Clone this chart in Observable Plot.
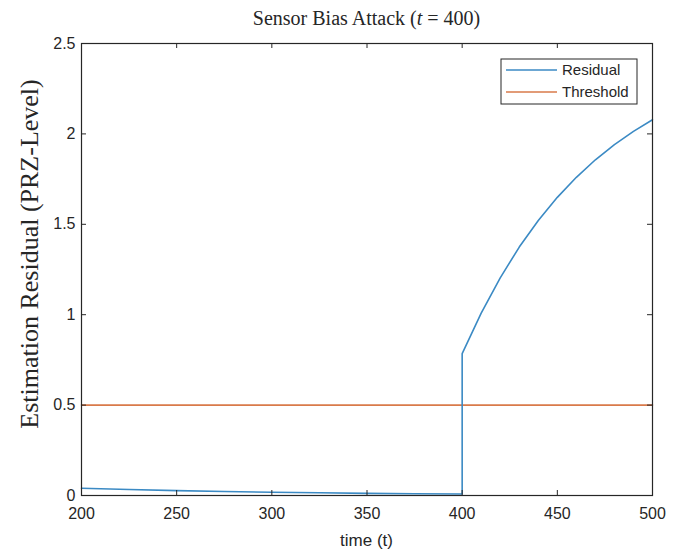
<!DOCTYPE html>
<html>
<head>
<meta charset="utf-8">
<script src="https://cdn.jsdelivr.net/npm/d3@7"></script>
<script src="https://cdn.jsdelivr.net/npm/@observablehq/plot@0.6"></script>
<style>
  html, body { margin: 0; padding: 0; background: #fff; }
  #chart svg { display: block; }
</style>
</head>
<body>
<div id="chart"></div>
<script>
// ---- data ----
const tPre = [200, 225, 250, 275, 300, 325, 350, 375, 400];
const rPre = [0.040, 0.033, 0.027, 0.022, 0.018, 0.015, 0.012, 0.010, 0.008];
const tPost = [400, 410, 420, 430, 440, 450, 460, 470, 480, 490, 500];
const rPost = [0.785, 1.009, 1.204, 1.374, 1.521, 1.649, 1.760, 1.857, 1.941, 2.014, 2.078];
const thresholdT = [200, 500];
const thresholdValue = 0.5;
const xTicks = [200, 250, 300, 350, 400, 450, 500];
const yTicks = [0, 0.5, 1, 1.5, 2, 2.5];
const yTickLabels = ["0", "0.5", "1", "1.5", "2", "2.5"];
const seriesNames = ["Residual", "Threshold"];

// ---- build tables ----
const residual = tPre.map((t, i) => ({t, r: rPre[i]}))
  .concat(tPost.map((t, i) => ({t, r: rPost[i]})));
const threshold = thresholdT.map(t => ({t, r: thresholdValue}));

const W = 680, H = 551;
const mL = 81, mR = 28, mT = 43, mB = 56;
const fw = W - mL - mR, fh = H - mT - mB;
const blue = "#3b8ac4", orange = "#d97a4a", ink = "#262626";
const sans = "'Liberation Sans', Arial, Helvetica, sans-serif";
const serif = "'Liberation Serif', 'Times New Roman', serif";

const plot = Plot.plot({
  width: W, height: H,
  marginLeft: mL, marginRight: mR, marginTop: mT, marginBottom: mB,
  style: {fontFamily: sans, fontSize: "16px", color: ink, background: "#fff"},
  x: {domain: [200, 500]},
  y: {domain: [0, 2.5]},
  marks: [
    Plot.line(threshold, {x: "t", y: "r", stroke: orange, strokeWidth: 1.6}),
    Plot.line(residual, {x: "t", y: "r", stroke: blue, strokeWidth: 1.6, curve: "linear"}),
    Plot.frame({stroke: ink, strokeWidth: 1.2}),
    // inward ticks on all four sides
    Plot.tickX(xTicks, {x: d => d, stroke: ink, insetTop: fh - 5}),
    Plot.tickX(xTicks, {x: d => d, stroke: ink, insetBottom: fh - 5}),
    Plot.tickY(yTicks, {y: d => d, stroke: ink, insetRight: fw - 5}),
    Plot.tickY(yTicks, {y: d => d, stroke: ink, insetLeft: fw - 5}),
    Plot.axisX({ticks: xTicks, tickSize: 0, tickPadding: 12, label: null, fill: ink, fontSize: 16}),
    Plot.axisY({ticks: yTicks, tickSize: 0, tickPadding: 6, label: null, fill: ink, fontSize: 16,
      tickFormat: (d) => yTickLabels[yTicks.indexOf(d)]})
  ]
});

document.getElementById("chart").appendChild(plot);
const svg = d3.select(plot);

// title
const title = svg.append("text")
  .attr("x", mL + fw / 2).attr("y", 25)
  .attr("text-anchor", "middle")
  .attr("font-family", serif).attr("font-size", 20).attr("fill", ink);
title.append("tspan").text("Sensor Bias Attack (");
title.append("tspan").attr("font-style", "italic").text("t");
title.append("tspan").text(" = 400)");

// x label
svg.append("text")
  .attr("x", mL + fw / 2).attr("y", H - 5)
  .attr("text-anchor", "middle")
  .attr("font-family", sans).attr("font-size", 17).attr("fill", ink)
  .text("time (t)");

// y label
svg.append("text")
  .attr("transform", `translate(38,254) rotate(-90)`)
  .attr("text-anchor", "middle")
  .attr("font-family", serif).attr("font-size", 26).attr("fill", ink)
  .text("Estimation Residual (PRZ-Level)");

// legend
const lg = svg.append("g");
lg.append("rect").attr("x", 501).attr("y", 59).attr("width", 136).attr("height", 45)
  .attr("fill", "#fff").attr("stroke", ink).attr("stroke-width", 1);
[blue, orange].forEach((c, i) => {
  const y = 70 + i * 22;
  lg.append("line").attr("x1", 506).attr("x2", 557).attr("y1", y).attr("y2", y)
    .attr("stroke", c).attr("stroke-width", 1.6);
  lg.append("text").attr("x", 562).attr("y", y).attr("dy", "0.35em")
    .attr("text-anchor", "start")
    .attr("font-family", sans).attr("font-size", 15).attr("fill", ink)
    .text(seriesNames[i]);
});
</script>
</body>
</html>
